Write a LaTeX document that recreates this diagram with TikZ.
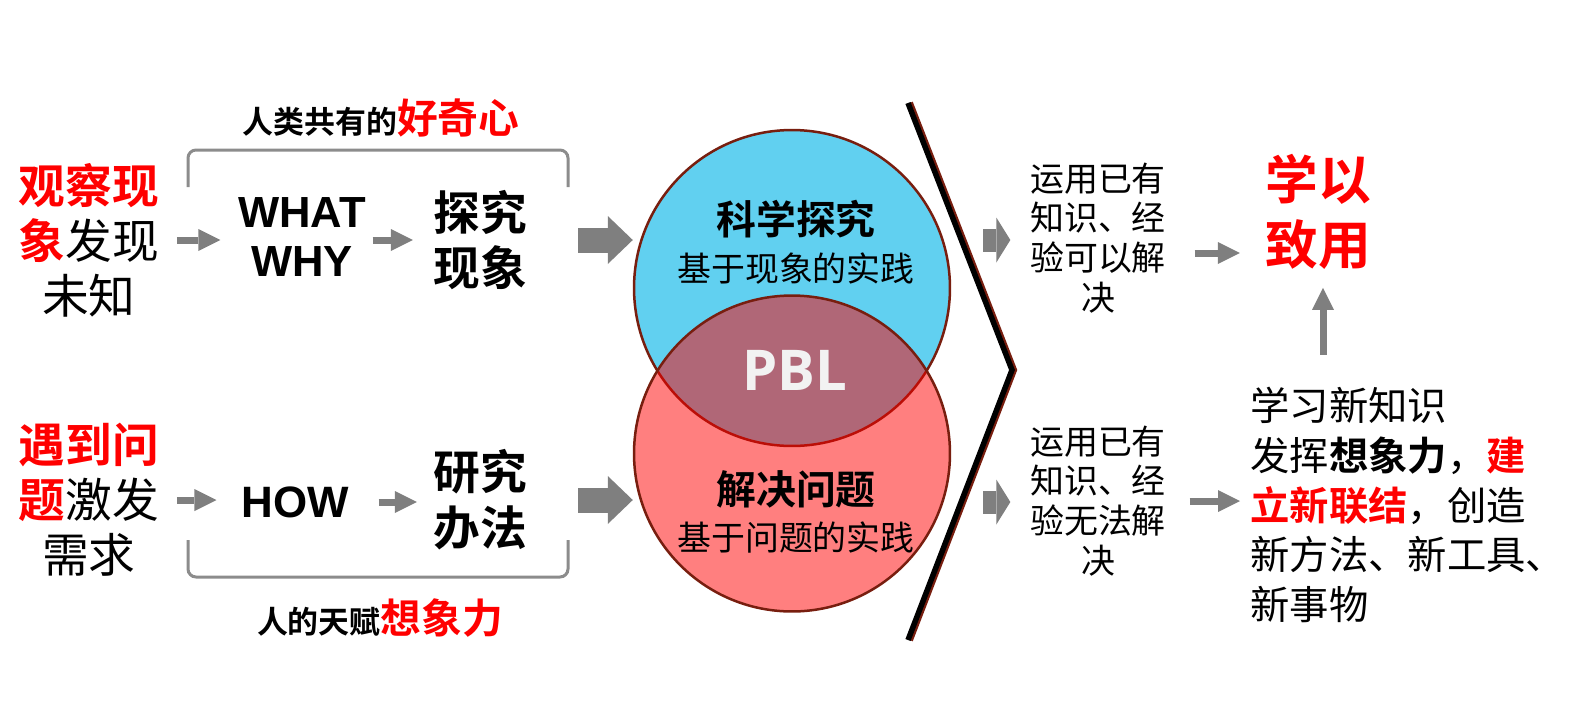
\documentclass[tikz,border=0pt]{standalone}
\usepackage{fontspec}
\setmainfont{Noto Sans CJK SC}[BoldFont={Noto Sans CJK SC Bold}]
\newfontfamily\latinfont{Liberation Sans}
\newfontfamily\pblfont{Open Sans}
\usetikzlibrary{arrows.meta}
\definecolor{ArrGray}{RGB}{127,127,127}
\definecolor{BrkGray}{RGB}{140,140,140}
\definecolor{SkyBlue}{RGB}{97,208,240}
\definecolor{RimBrown}{RGB}{120,30,15}
\definecolor{PblWhite}{RGB}{242,242,242}
\newcommand{\fs}[2]{\fontsize{#1}{#2}\selectfont}

\begin{document}
\begin{tikzpicture}[x=0.02cm, y=-0.02cm,
                tx/.style={inner sep=0pt, align=center},
                ar/.style={draw=ArrGray, line width=0.14cm, -{Triangle[length=0.44cm,width=0.44cm,line width=0pt]}},
                bar/.style={draw=ArrGray, line width=0.5cm, -{Triangle[length=0.5cm,width=0.96cm,line width=0pt]}},
                sar/.style={draw=ArrGray, line width=0.46cm, -{Triangle[length=0.28cm,width=0.9cm,line width=0pt]}},
                br/.style={draw=BrkGray, line width=0.06cm, rounded corners=0.16cm},
                ring/.style={circle, draw=RimBrown, line width=0.05cm, minimum size=6.32cm, inner sep=0pt}
            ]
                \useasboundingbox (0,0) rectangle (1569,711);
                % Left column
                \node[tx, font=\fs{26.6}{31.2}] (obs) at (89,240) {{\color{red}\bfseries 观察现}\\{\color{red}\bfseries 象}发现\\未知};
                \node[tx, font=\fs{26.6}{31.2}] (prob) at (89,500) {{\color{red}\bfseries 遇到问}\\{\color{red}\bfseries 题}激发\\需求};
                \node[tx, font=\latinfont\bfseries\fs{24.8}{28.3}] (what) at (302,237) {WHAT\\WHY};
                \node[tx, font=\latinfont\bfseries\fs{25}{28}] (how) at (295,502) {HOW};
                \node[tx, font=\bfseries\fs{26.6}{31.7}] (tanjiu) at (480,240) {探究\\现象};
                \node[tx, font=\bfseries\fs{26.6}{31.7}] (yanjiu) at (480,500) {研究\\办法};
                \node[tx, font=\bfseries] (hao) at (381,118) {{\fs{17.6}{20}人类共有的}{\color{red}\fs{23.2}{26}好奇心}};
                \node[tx, font=\bfseries] (tian) at (380,618) {{\fs{17.6}{20}人的天赋}{\color{red}\fs{23.2}{26}想象力}};
                % Brackets
                \draw[br] (188,187) -- (188,150) -- (568,150) -- (568,187);
                \draw[br] (188,540) -- (188,577) -- (568,577) -- (568,540);
                % Venn circles
                \node[ring, fill=SkyBlue] (sci) at (792,288) {};
                \node[ring, fill=red, fill opacity=0.5] (prb) at (792,453.5) {};
                \node[tx, font=\fs{19.3}{26.6}] (scitxt) at (796,242) {{\bfseries\fs{22.7}{26.6}科学探究}\\基于现象的实践};
                \node[tx, font=\fs{19.3}{26.6}] (prbtxt) at (796,512) {{\bfseries\fs{22.7}{26.6}解决问题}\\基于问题的实践};
                \node[tx, font=\pblfont\bfseries\fs{32}{36}, text=PblWhite] (pbl) at (795,370) {PBL};
                % Chevron
                \draw[draw=RimBrown, line width=0.14cm, xshift=0.03cm] (908,103) -- (1012,370) -- (908,640);
                \draw[line width=0.11cm] (908,103) -- (1012,370) -- (908,640);
                % Right column
                \node[tx, font=\fs{19.3}{22.7}] (use1) at (1098,238) {运用已有\\知识、经\\验可以解\\决};
                \node[tx, font=\fs{19.3}{22.7}] (use2) at (1098,501) {运用已有\\知识、经\\验无法解\\决};
                \node[tx, font=\bfseries\fs{30}{36.9}, text=red] (xue) at (1318,212) {学以\\致用};
                \node[tx, font=\fs{22.4}{28.3}, align=left, anchor=west] (para) at (1250,505)
                    {学习新知识\\发挥{\bfseries 想象力}，{\color{red}\bfseries 建}\\{\color{red}\bfseries 立新联结}，创造\\新方法、新工具、\\新事物};
                \coordinate (cv1) at (983,240);
                \coordinate (cv2) at (983,502);
                % Arrows
                \draw[ar, shorten <=0.35cm, shorten >=0.35cm] (obs.east) -- (obs.east -| what.west);
                \draw[ar, shorten <=0.13cm, shorten >=0.4cm] (tanjiu.west -| what.east) -- (tanjiu.west);
                \draw[ar, shorten <=0.35cm, shorten >=0.49cm] (prob.east) -- (prob.east -| how.west);
                \draw[ar, shorten <=0.59cm, shorten >=0.32cm] (how.east) -- (how.east -| yanjiu.west);
                \draw[bar, shorten <=1.02cm] (tanjiu.east) -- (tanjiu.east -| sci.west);
                \draw[bar, shorten <=1.02cm] (yanjiu.east) -- (yanjiu.east -| prb.west);
                \draw[sar, shorten >=0.39cm] (cv1) -- (cv1 -| use1.west);
                \draw[sar, shorten >=0.39cm] (cv2) -- (cv2 -| use2.west);
                \draw[ar, shorten <=0.57cm, shorten >=0.5cm] ([yshift=-0.3cm]use1.east) -- ([yshift=-0.3cm]use1.east -| xue.west);
                \draw[ar, shorten <=0.47cm, shorten >=0.2cm] (use2.east) -- (use2.east -| para.west);
                \draw[ar, shorten <=0.64cm, shorten >=0.36cm] ([xshift=0.1cm]xue.south |- para.north) -- ([xshift=0.1cm]xue.south);
            \end{tikzpicture}
\end{document}
